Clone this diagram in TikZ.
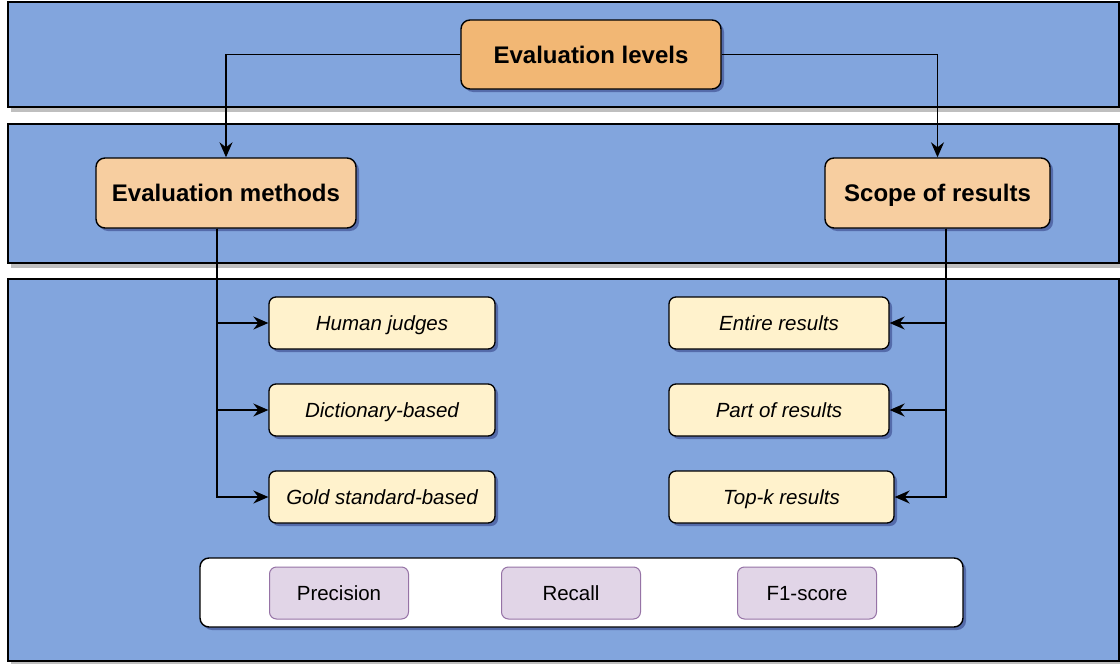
\documentclass[tikz,border=0pt]{standalone}
\usepackage{fontspec}
\setmainfont{Liberation Sans}
\usetikzlibrary{shadows,arrows.meta}
\definecolor{bandblue}{HTML}{82A5DD}
\definecolor{lvlorange}{HTML}{F2B774}
\definecolor{midorange}{HTML}{F7CEA0}
\definecolor{leafyellow}{HTML}{FFF2CC}
\definecolor{metricfill}{HTML}{E1D5E7}
\definecolor{metricline}{HTML}{9673A6}
\tikzset{
  band/.style={draw=black, line width=1.3pt, fill=bandblue, inner sep=0pt,
    drop shadow={shadow xshift=3pt, shadow yshift=-5pt, opacity=0.25, fill=black}},
  headbox/.style={draw=black, line width=1.4pt, rounded corners=9pt, inner sep=0pt,
    font=\fontsize{24}{28}\selectfont\bfseries, text height=17.2pt, text depth=0pt,
    drop shadow={shadow xshift=3pt, shadow yshift=-3pt, opacity=0.35, fill=black!70!blue}},
  leafbox/.style={draw=black, line width=1.3pt, fill=leafyellow, rounded corners=7pt,
    inner sep=0pt, minimum height=52pt, font=\fontsize{20.5}{24}\selectfont\itshape,
    text height=14.7pt, text depth=0pt,
    drop shadow={shadow xshift=3pt, shadow yshift=-3pt, opacity=0.35, fill=black!70!blue}},
  whitebox/.style={draw=black, line width=1.4pt, fill=white, rounded corners=9pt, inner sep=0pt,
    drop shadow={shadow xshift=3pt, shadow yshift=-3pt, opacity=0.35, fill=black!70!blue}},
  metric/.style={draw=metricline, line width=1pt, fill=metricfill, rounded corners=7pt,
    inner sep=0pt, minimum width=139pt, minimum height=52pt, font=\fontsize{20.5}{24}\selectfont,
    text height=14.7pt, text depth=0pt},
  arr/.style={line width=1.5pt, -{Stealth[length=15pt,width=13pt,inset=5pt]}},
  conn/.style={line width=1.5pt}
}
\begin{document}
\begin{tikzpicture}[x=1pt,y=-1pt]
\useasboundingbox (0,0) rectangle (1120,664);
% bands
\node[band, minimum width=1111pt, minimum height=105pt] (band1) at (563.5,54.5) {};
\node[band, minimum width=1111pt, minimum height=139pt] (band2) at (563.5,193.5) {};
\node[band, minimum width=1111pt, minimum height=382pt] (band3) at (563.5,470) {};
% headers
\node[headbox, fill=lvlorange, minimum width=260pt, minimum height=69pt] (lvl) at (591,54.5) {Evaluation levels};
\node[headbox, fill=midorange, minimum width=260pt, minimum height=70pt] (meth) at (226,193) {Evaluation methods};
\node[headbox, fill=midorange, minimum width=225pt, minimum height=70pt] (scope) at (937.5,193) {Scope of results};
% leaves left
\node[leafbox, minimum width=226pt] (hj) at (382,323) {Human judges};
\node[leafbox, minimum width=226pt] (dict) at (382,410) {Dictionary-based};
\node[leafbox, minimum width=226pt] (gold) at (382,497) {Gold standard-based};
% leaves right
\node[leafbox, minimum width=220pt] (ent) at (779,323) {Entire results};
\node[leafbox, minimum width=220pt] (part) at (779,410) {Part of results};
\node[leafbox, minimum width=225pt] (topk) at (781.5,497) {Top-k results};
% metrics
\node[whitebox, minimum width=763pt, minimum height=69pt] (metrics) at (581.5,592.5) {};
\node[metric] (prec) at (339,593) {Precision};
\node[metric] (rec) at (571,593) {Recall};
\node[metric] (f1) at (807,593) {F1-score};
% connectors
\draw[arr] (lvl.west) -| (meth.north);
\draw[arr] (lvl.east) -| (scope.north);
\coordinate (mb) at ([xshift=-9pt]meth.south);
\coordinate (sb) at ([xshift=8.5pt]scope.south);
\draw[conn] (mb) -- (mb |- gold.west);
\draw[arr] (mb) |- (hj.west);
\draw[arr] (mb) |- (dict.west);
\draw[arr] (mb) |- (gold.west);
\draw[conn] (sb) -- (sb |- topk.east);
\draw[arr] (sb) |- (ent.east);
\draw[arr] (sb) |- (part.east);
\draw[arr] (sb) |- (topk.east);
\end{tikzpicture}
\end{document}
